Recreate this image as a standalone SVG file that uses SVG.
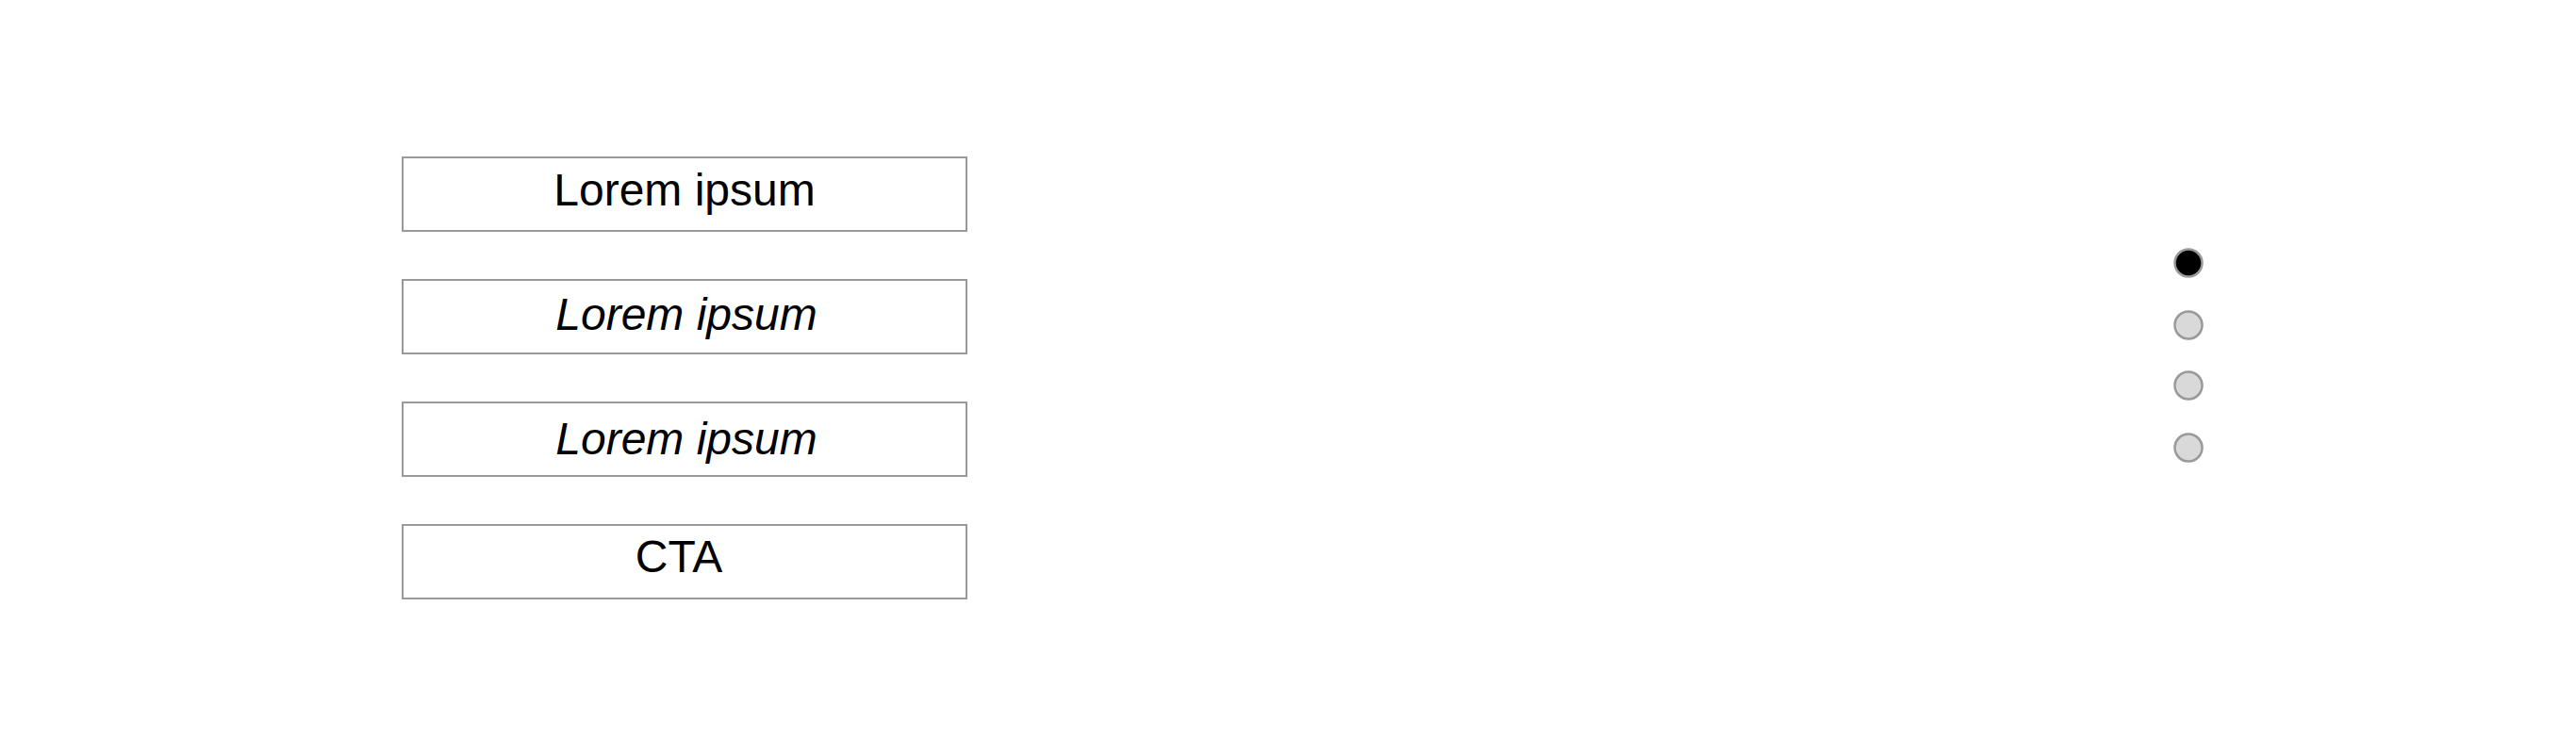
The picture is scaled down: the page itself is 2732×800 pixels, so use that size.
<svg xmlns="http://www.w3.org/2000/svg" width="2732" height="800" viewBox="0 0 2732 800">
<style>
.box{fill:#fff;stroke:#999;stroke-width:2}
.t{font-family:"Liberation Sans",Arial,sans-serif;font-size:48px;fill:#000;text-anchor:middle}
.i{font-style:italic}
.dot{stroke:#999;stroke-width:2.5}
</style>
<rect width="2732" height="800" fill="#fff"/>
<g id="item1"><rect class="box" x="427" y="167" width="598" height="78"/><text class="t" x="726" y="218">Lorem ipsum</text></g>
<g id="item2"><rect class="box" x="427" y="297" width="598" height="78"/><text class="t i" x="728" y="350">Lorem ipsum</text></g>
<g id="item3"><rect class="box" x="427" y="427" width="598" height="78"/><text class="t i" x="728" y="482">Lorem ipsum</text></g>
<g id="cta"><rect class="box" x="427" y="557" width="598" height="78"/><text class="t" x="720" y="607">CTA</text></g>
<g id="pager">
<circle class="dot" cx="2321" cy="279" r="14.5" fill="#000"/>
<circle class="dot" cx="2321" cy="345" r="14.5" fill="#d9d9d9"/>
<circle class="dot" cx="2321" cy="409" r="14.5" fill="#d9d9d9"/>
<circle class="dot" cx="2321" cy="475" r="14.5" fill="#d9d9d9"/>
</g>
<g id="connectors"></g>
</svg>
